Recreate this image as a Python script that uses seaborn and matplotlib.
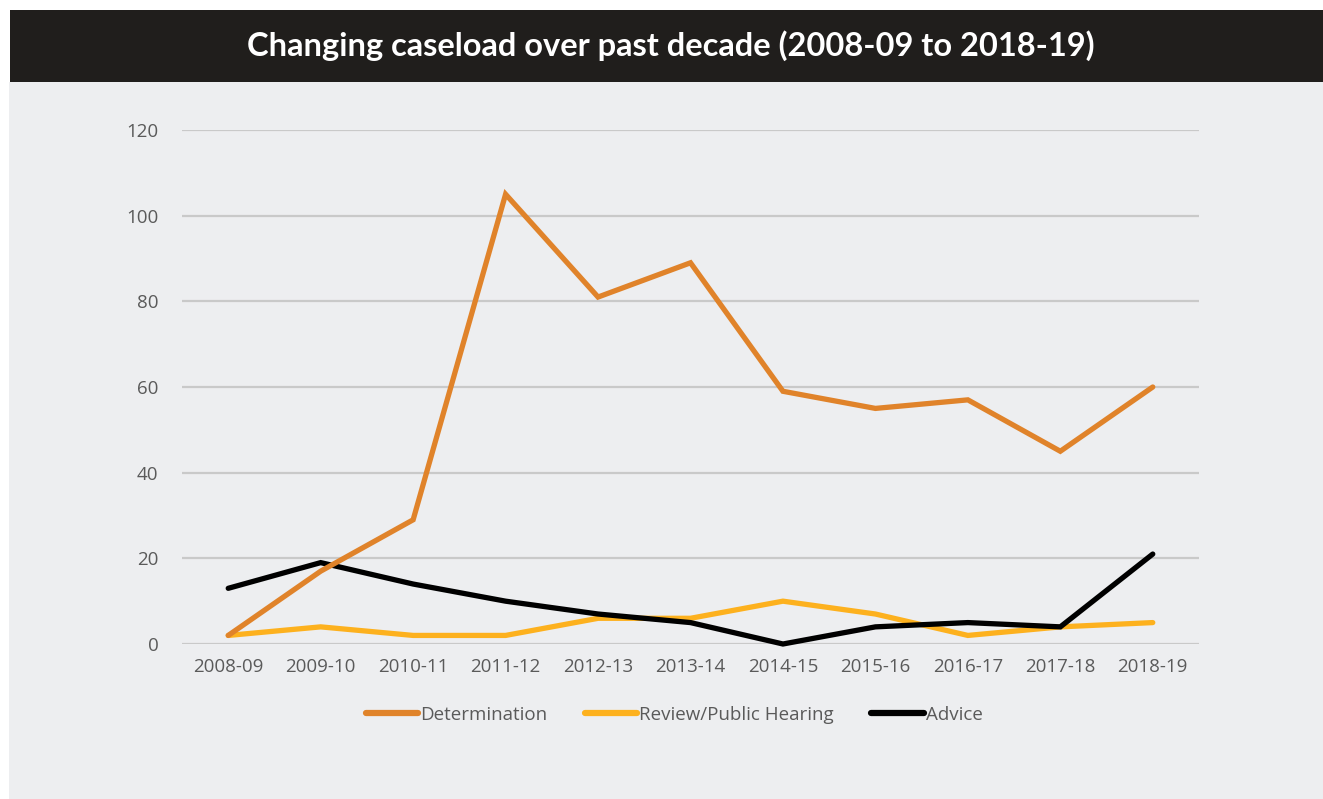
import matplotlib
matplotlib.use("Agg")
import matplotlib.pyplot as plt
import pandas as pd
import seaborn as sns

years = ["2008-09", "2009-10", "2010-11", "2011-12", "2012-13", "2013-14",
         "2014-15", "2015-16", "2016-17", "2017-18", "2018-19"]
determination = [2, 17, 29, 105, 81, 89, 59, 55, 57, 45, 60]
review = [2, 4, 2, 2, 6, 6, 10, 7, 2, 4, 5]
advice = [13, 19, 14, 10, 7, 5, 0, 4, 5, 4, 21]

series = ["Determination", "Review/Public Hearing", "Advice"]
colors = {"Determination": "#E0832A", "Review/Public Hearing": "#FDB11E", "Advice": "#000000"}
zorders = {"Determination": 4, "Review/Public Hearing": 2, "Advice": 3}

df = pd.DataFrame({
    "year": years * 3,
    "idx": list(range(len(years))) * 3,
    "value": determination + review + advice,
    "series": sum([[s] * len(years) for s in series], []),
})

sns.set_theme(style="white")
plt.rcParams["font.family"] = ["Open Sans", "DejaVu Sans"]

BG = "#EDEEF0"
fig = plt.figure(figsize=(13.23, 7.99), dpi=100)
fig.patch.set_facecolor("white")

# grey panel and black title bar
W, H = 1323, 799
fig.add_artist(plt.Rectangle((9 / W, 0), 1, 1 - 82 / H, transform=fig.transFigure,
                             facecolor=BG, edgecolor="none", zorder=0))
fig.add_artist(plt.Rectangle((10 / W, 1 - 82 / H), 1, 72 / H, transform=fig.transFigure,
                             facecolor="#201E1C", edgecolor="none", zorder=0))
fig.text(671 / W, 1 - 46 / H, "Changing caseload over past decade (2008-09 to 2018-19)",
         color="white", fontsize=23.5, fontweight="bold", ha="center", va="center",
         family=["Lato", "DejaVu Sans"])

ax = fig.add_axes([182 / W, 1 - 644 / H, (1199 - 182) / W, (644 - 130) / H])
ax.set_facecolor("none")

for s in series:
    sns.lineplot(data=df[df["series"] == s], x="idx", y="value", color=colors[s],
                 linewidth=3.8, label=s, ax=ax, zorder=zorders[s],
                 solid_capstyle="round", solid_joinstyle="miter")

ax.set_xlim(-0.5, len(years) - 0.5)
ax.set_ylim(0, 120)
ax.set_yticks(range(0, 121, 20))
ax.set_xticks(range(len(years)))
ax.set_xticklabels(years)
ax.yaxis.grid(True, color="#C9C9C9", linewidth=1.6)
ax.set_axisbelow(True)
for sp in ax.spines.values():
    sp.set_visible(False)
ax.tick_params(axis="both", length=0, labelsize=13.5, labelcolor="#5A5A5A")
ax.tick_params(axis="y", pad=17)
ax.tick_params(axis="x", pad=10)
ax.set_xlabel("")
ax.set_ylabel("")
for line in ax.lines:
    line.set_clip_on(False)

leg = ax.legend(loc="center", bbox_to_anchor=(674 / W, 1 - 715 / H),
                bbox_transform=fig.transFigure, ncol=3, frameon=False,
                fontsize=13.5, handlelength=2.8, handletextpad=0.1,
                columnspacing=2.0)
for t in leg.get_texts():
    t.set_color("#5A5A5A")
for h in leg.get_lines():
    h.set_linewidth(4.5)
    h.set_solid_capstyle("round")

fig.savefig("out.png", dpi=100, facecolor=fig.get_facecolor())
